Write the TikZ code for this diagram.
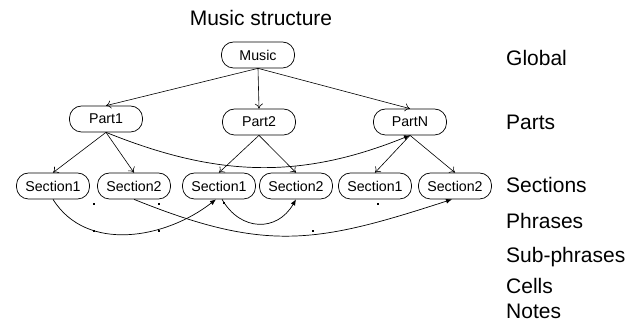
\documentclass[tikz,border=0pt]{standalone}
\usepackage{fontspec}
\setmainfont{Liberation Sans}
\usepackage{xcolor}
\usepackage{tikz}
\usetikzlibrary{arrows.meta,positioning}
\definecolor{bg}{HTML}{FFFFFF}
\definecolor{ink}{HTML}{000000}
\tikzset{
  box/.style={draw=ink, rounded corners=12pt, line width=0.7pt, minimum width=73pt, minimum height=26pt, inner sep=0pt, font=\fontsize{14.2}{16}\selectfont},
  tree/.style={draw=ink, line width=0.6pt, -{To[length=5pt,width=8pt]}},
  link/.style={draw=ink, line width=0.7pt, -{Latex[length=6pt,width=5pt]}},
  dot/.style={fill=ink, inner sep=0pt, minimum size=2pt},
  lab/.style={text=ink, anchor=base west, inner sep=0pt, font=\fontsize{21}{23}\selectfont},
  ttl/.style={text=ink, anchor=base, inner sep=0pt, font=\fontsize{21}{23}\selectfont},
}
\begin{document}
\begin{tikzpicture}[x=1pt,y=1pt]
\useasboundingbox[fill=bg] (0,0) rectangle (633,324);

\node[ttl] (title) at (261,298) {Music structure};

% hierarchy
\node[box] (music) at (258,269) {Music};
\node[box] (part1) at (106,205) {Part1};
\node[box] (part2) at (259,202) {Part2};
\node[box] (partN) at (410,202) {PartN};

\node[box] (sec1a) at (53,138) {Section1};
\node[box] (sec2a) at (134,138) {Section2};
\node[box] (sec1b) at (219,138) {Section1};
\node[box] (sec2b) at (296,138) {Section2};
\node[box] (sec1c) at (375,138) {Section1};
\node[box] (sec2c) at (455,138) {Section2};

\draw[tree] (music.south) -- (part1.north);
\draw[tree] (music.south) -- (part2.north);
\draw[tree] (music.south) -- (partN.north);
\draw[tree] (part1.south) -- (sec1a.north);
\draw[tree] (part1.south) -- (sec2a.north);
\draw[tree] (part2.south) -- (sec1b.north);
\draw[tree] (part2.south) -- (sec2b.north);
\draw[tree] (partN.south) -- (sec1c.north);
\draw[tree] (partN.south) -- (sec2c.north);

% repeats
\draw[link] (part1.south) to[out=-22, in=-158] (partN.south);
\draw[link] (sec1a.south) to[out=-58, in=-142] ([xshift=-3pt]sec1b.south);
\draw[link] ([xshift=3pt]sec1b.south) to[out=-60, in=-120, looseness=1.3] (sec2b.south);
\draw[link] (sec2a.south) to[out=-22, in=-162, looseness=1.15] ([xshift=-3pt]sec2c.south);

\foreach \p [count=\i] in {(94,120),(159,120),(224,121),(378,120),(94,93),(159,93),(313,93)}
  \node[dot] (d\i) at \p {};

% levels
\node[lab] (global) at (506,258) {Global};
\node[lab] (parts) at (506,194) {Parts};
\node[lab] (sections) at (506,131) {Sections};
\node[lab] (phrases) at (506,95) {Phrases};
\node[lab] (subphr) at (506,61) {Sub-phrases};
\node[lab] (cells) at (506,30) {Cells};
\node[lab] (notes) at (506,5) {Notes};
\end{tikzpicture}
\end{document}
